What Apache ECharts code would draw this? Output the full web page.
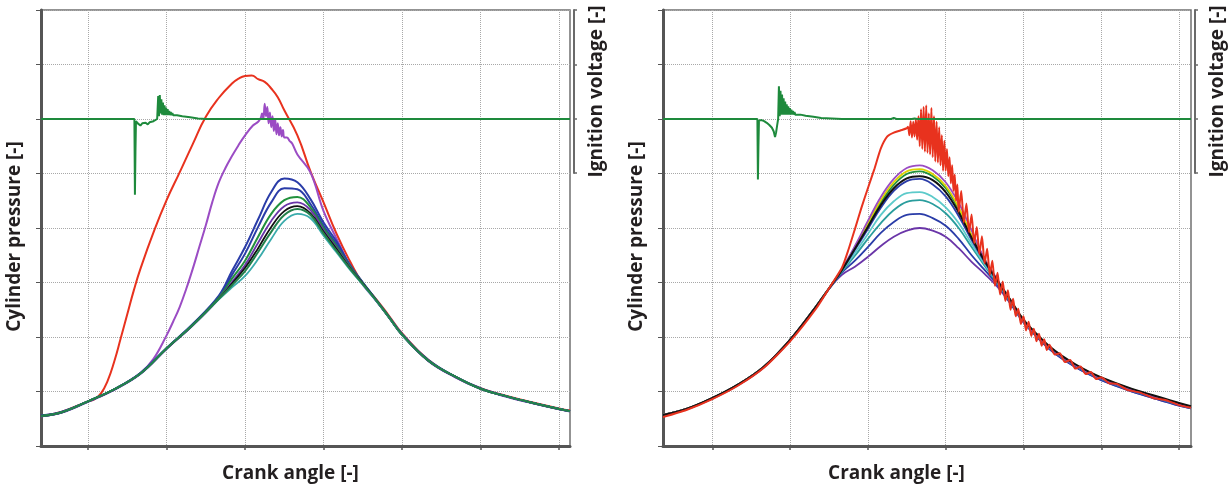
<!DOCTYPE html>
<html><head><meta charset="utf-8">
<script src="https://cdn.jsdelivr.net/npm/echarts@6/dist/echarts.min.js"></script>
<style>html,body{margin:0;padding:0;background:#fff}#c{width:1230px;height:488px}</style>
</head><body><div id="c"></div>
<script>
// ---------- axis ticks ----------
const crankTicks = [-90, -60, -30, 0, 30, 60, 90];

// ---------- LEFT PANEL : cylinder pressure [-] vs crank angle [deg] ----------
const leftRed = [[-108,0.55],[-100,0.63],[-90,0.82],[-87.5,0.86],[-85,0.97],[-82.5,1.20],[-80,1.55],[-77.5,1.98],[-75,2.42],[-72.5,2.86],[-70,3.25],[-65,3.92],[-60,4.51],[-55,5.02],[-50,5.54],[-45,6.04],[-40,6.39],[-35,6.65],[-32.5,6.74],[-30,6.79],[-27.5,6.80],[-25,6.73],[-22.5,6.68],[-20,6.56],[-17.5,6.40],[-15,6.16],[-10,5.70],[-5,5.04],[0,4.47],[5,3.89],[10,3.40],[15,2.98],[20,2.70],[25,2.39],[30,2.07],[40,1.58],[50,1.28],[60,1.06],[70,0.92],[80,0.80],[90,0.69],[94.2,0.65]];
const leftPurple = [[-108,0.55],[-100,0.62],[-90,0.82],[-80,1.04],[-70,1.34],[-65,1.60],[-60,2.03],[-57.5,2.28],[-55,2.55],[-52.5,2.88],[-50,3.25],[-47.5,3.65],[-45,4.05],[-42.5,4.48],[-40,4.84],[-37.5,5.10],[-35,5.32],[-32.5,5.52],[-30,5.70],[-27,5.88],[-25,5.95],[-24,6.02],[-23.5,6.10],[-23,6.00],[-22.5,6.28],[-22,6.05],[-21.5,6.22],[-21,5.92],[-20.5,6.12],[-20,5.85],[-19.5,6.05],[-19,5.78],[-18.5,6.00],[-18,5.72],[-17.5,5.92],[-17,5.70],[-16.5,5.85],[-16,5.68],[-15.5,5.80],[-15,5.66],[-14,5.66],[-13,5.60],[-12,5.55],[-10,5.35],[-5,5.02],[0,4.31],[5,3.80],[10,3.32],[15,2.96],[20,2.67],[25,2.37],[30,2.06],[40,1.57],[50,1.27],[60,1.05],[70,0.91],[80,0.79],[90,0.68],[94.2,0.64]];
const leftBlue1 = [[-108,0.56],[-100,0.63],[-90,0.82],[-80,1.04],[-70,1.34],[-60,1.80],[-50,2.24],[-40,2.76],[-35,3.21],[-30,3.65],[-25,4.16],[-20,4.66],[-15,4.91],[-10,4.84],[-5,4.53],[0,4.10],[5,3.75],[10,3.33],[15,3.00],[20,2.69],[25,2.37],[30,2.05],[40,1.58],[50,1.28],[60,1.06],[70,0.91],[80,0.79],[90,0.68],[94.2,0.64]];
const leftBlue2 = [[-108,0.55],[-100,0.62],[-90,0.82],[-80,1.04],[-70,1.33],[-60,1.79],[-50,2.23],[-40,2.74],[-35,3.14],[-30,3.53],[-25,4.02],[-20,4.47],[-15,4.73],[-10,4.71],[-5,4.44],[0,4.04],[5,3.70],[10,3.31],[15,3.00],[20,2.68],[25,2.37],[30,2.05],[40,1.57],[50,1.28],[60,1.05],[70,0.91],[80,0.79],[90,0.68],[94.2,0.64]];
const leftGreen1 = [[-108,0.55],[-100,0.62],[-90,0.82],[-80,1.04],[-70,1.33],[-60,1.79],[-50,2.22],[-40,2.72],[-35,3.07],[-30,3.40],[-25,3.84],[-20,4.26],[-15,4.51],[-10,4.57],[-5,4.38],[0,4.00],[5,3.66],[10,3.30],[15,2.99],[20,2.68],[25,2.36],[30,2.04],[40,1.57],[50,1.28],[60,1.05],[70,0.91],[80,0.79],[90,0.68],[94.2,0.64]];
const leftViolet = [[-108,0.54],[-100,0.61],[-90,0.81],[-80,1.03],[-70,1.32],[-60,1.78],[-50,2.21],[-40,2.70],[-35,3.01],[-30,3.32],[-25,3.73],[-20,4.13],[-15,4.40],[-10,4.47],[-5,4.33],[0,3.96],[5,3.63],[10,3.28],[15,2.98],[20,2.67],[25,2.36],[30,2.04],[40,1.56],[50,1.27],[60,1.05],[70,0.90],[80,0.78],[90,0.67],[94.2,0.63]];
const leftBlack = [[-108,0.55],[-100,0.62],[-90,0.82],[-80,1.04],[-70,1.33],[-60,1.79],[-50,2.22],[-40,2.70],[-35,2.98],[-30,3.27],[-25,3.63],[-20,4.02],[-15,4.31],[-10,4.40],[-5,4.27],[0,3.93],[5,3.61],[10,3.27],[15,2.98],[20,2.68],[25,2.36],[30,2.04],[40,1.57],[50,1.28],[60,1.05],[70,0.91],[80,0.79],[90,0.68],[94.2,0.64]];
const leftTeal = [[-108,0.55],[-100,0.62],[-90,0.82],[-80,1.04],[-70,1.33],[-60,1.79],[-50,2.22],[-40,2.69],[-35,2.91],[-30,3.12],[-25,3.43],[-20,3.80],[-15,4.13],[-10,4.26],[-5,4.18],[0,3.86],[5,3.55],[10,3.24],[15,2.96],[20,2.67],[25,2.36],[30,2.04],[40,1.57],[50,1.28],[60,1.05],[70,0.91],[80,0.79],[90,0.68],[94.2,0.64]];
const leftGreen2 = [[-108,0.55],[-100,0.62],[-90,0.82],[-80,1.04],[-70,1.33],[-60,1.79],[-50,2.22],[-40,2.70],[-35,2.95],[-30,3.21],[-25,3.56],[-20,3.93],[-15,4.24],[-10,4.35],[-5,4.24],[0,3.90],[5,3.58],[10,3.26],[15,2.97],[20,2.68],[25,2.37],[30,2.05],[40,1.57],[50,1.28],[60,1.05],[70,0.91],[80,0.79],[90,0.68],[94.2,0.64]];
// ignition voltage [-] (left panel)
const leftIgnition = [[-108,0],[-72.3,0],[-72.1,-1.39],[-71.9,-0.6],[-71.7,-0.04],[-71,-0.08],[-70,-0.12],[-69.3,-0.08],[-68.6,-0.11],[-68,-0.07],[-67.2,-0.1],[-66.5,-0.06],[-65.8,-0.08],[-65,-0.04],[-64.3,-0.06],[-63.6,0.0],[-63.2,0.42],[-62.9,0.05],[-62.6,0.44],[-62.3,0.10],[-62,0.36],[-61.7,0.08],[-61.4,0.30],[-61.1,0.07],[-60.8,0.25],[-60.5,0.07],[-60.2,0.21],[-59.9,0.07],[-59.6,0.18],[-59.3,0.07],[-59,0.15],[-58.7,0.07],[-58.4,0.13],[-58.1,0.07],[-57.8,0.11],[-57.5,0.07],[-57,0.09],[-56,0.07],[-54,0.05],[-51,0.03],[-48,0.01],[-45,0],[94.2,0]];

// ---------- RIGHT PANEL ----------
const rightPurple = [[-109,0.57],[-100,0.68],[-90,0.88],[-80,1.13],[-70,1.46],[-60,1.95],[-50,2.56],[-45,2.89],[-40,3.25],[-35,3.67],[-30,4.13],[-25,4.57],[-20,4.90],[-15,5.10],[-10,5.15],[-5,5.06],[0,4.84],[5,4.46],[10,3.95],[15,3.43],[20,3.05],[25,2.67],[30,2.30],[35,2.04],[40,1.81],[45,1.63],[50,1.48],[55,1.35],[60,1.24],[70,1.06],[80,0.91],[90,0.77],[94.6,0.71]];
const rightYellow = [[-109,0.57],[-100,0.68],[-90,0.88],[-80,1.13],[-70,1.46],[-60,1.95],[-50,2.56],[-45,2.89],[-40,3.25],[-35,3.65],[-30,4.09],[-25,4.51],[-20,4.84],[-15,5.04],[-10,5.08],[-5,4.99],[0,4.77],[5,4.38],[10,3.87],[15,3.43],[20,3.03],[25,2.67],[30,2.31],[35,2.05],[40,1.82],[45,1.64],[50,1.49],[55,1.36],[60,1.25],[70,1.07],[80,0.92],[90,0.78],[94.6,0.72]];
const rightGreen = [[-109,0.57],[-100,0.68],[-90,0.88],[-80,1.13],[-70,1.46],[-60,1.95],[-50,2.56],[-45,2.89],[-40,3.23],[-35,3.64],[-30,4.06],[-25,4.47],[-20,4.79],[-15,4.99],[-10,5.04],[-5,4.95],[0,4.73],[5,4.35],[10,3.85],[15,3.42],[20,3.03],[25,2.67],[30,2.30],[35,2.04],[40,1.81],[45,1.63],[50,1.48],[55,1.35],[60,1.24],[70,1.06],[80,0.91],[90,0.77],[94.6,0.71]];
const rightBlue1 = [[-109,0.57],[-100,0.68],[-90,0.88],[-80,1.13],[-70,1.46],[-60,1.95],[-50,2.56],[-45,2.89],[-40,3.23],[-35,3.60],[-30,3.98],[-25,4.37],[-20,4.68],[-15,4.86],[-10,4.90],[-5,4.80],[0,4.58],[5,4.22],[10,3.78],[15,3.38],[20,3.01],[25,2.65],[30,2.29],[35,2.03],[40,1.80],[45,1.62],[50,1.47],[55,1.34],[60,1.23],[70,1.05],[80,0.90],[90,0.76],[94.6,0.70]];
const rightCyan = [[-109,0.57],[-100,0.68],[-90,0.88],[-80,1.13],[-70,1.46],[-60,1.95],[-50,2.56],[-45,2.89],[-40,3.22],[-35,3.54],[-30,3.89],[-25,4.24],[-20,4.49],[-15,4.64],[-10,4.66],[-5,4.57],[0,4.38],[5,4.09],[10,3.71],[15,3.34],[20,3.00],[25,2.65],[30,2.29],[35,2.03],[40,1.80],[45,1.62],[50,1.47],[55,1.34],[60,1.23],[70,1.05],[80,0.90],[90,0.76],[94.6,0.70]];
const rightTeal = [[-109,0.57],[-100,0.68],[-90,0.88],[-80,1.13],[-70,1.46],[-60,1.95],[-50,2.56],[-45,2.89],[-40,3.20],[-35,3.49],[-30,3.80],[-25,4.09],[-20,4.33],[-15,4.48],[-10,4.51],[-5,4.44],[0,4.27],[5,4.00],[10,3.65],[15,3.31],[20,2.98],[25,2.64],[30,2.29],[35,2.03],[40,1.80],[45,1.62],[50,1.47],[55,1.34],[60,1.23],[70,1.05],[80,0.90],[90,0.76],[94.6,0.70]];
const rightBlue2 = [[-109,0.56],[-100,0.67],[-90,0.87],[-80,1.12],[-70,1.45],[-60,1.94],[-50,2.55],[-45,2.88],[-40,3.18],[-35,3.40],[-30,3.65],[-25,3.91],[-20,4.11],[-15,4.24],[-10,4.26],[-5,4.18],[0,4.04],[5,3.80],[10,3.50],[15,3.23],[20,2.96],[25,2.62],[30,2.27],[35,2.01],[40,1.78],[45,1.60],[50,1.45],[55,1.32],[60,1.21],[70,1.03],[80,0.88],[90,0.74],[94.6,0.69]];
const rightViolet = [[-109,0.56],[-100,0.67],[-90,0.87],[-80,1.12],[-70,1.45],[-60,1.94],[-50,2.55],[-45,2.88],[-40,3.14],[-35,3.29],[-30,3.47],[-25,3.67],[-20,3.84],[-15,3.95],[-10,4.00],[-5,3.95],[0,3.84],[5,3.63],[10,3.38],[15,3.16],[20,2.92],[25,2.61],[30,2.27],[35,2.01],[40,1.78],[45,1.60],[50,1.45],[55,1.32],[60,1.21],[70,1.03],[80,0.88],[90,0.74],[94.6,0.69]];
const rightBlack = [[-109,0.57],[-100,0.68],[-90,0.88],[-80,1.13],[-70,1.46],[-60,1.95],[-50,2.56],[-45,2.89],[-40,3.23],[-35,3.62],[-30,4.02],[-25,4.42],[-20,4.73],[-15,4.91],[-10,4.95],[-5,4.88],[0,4.66],[5,4.29],[10,3.82],[15,3.40],[20,3.03],[25,2.68],[30,2.32],[35,2.06],[40,1.83],[45,1.65],[50,1.50],[55,1.37],[60,1.26],[70,1.08],[80,0.93],[90,0.79],[94.6,0.73]];
const rightRed = [[-109,0.53],[-100,0.66],[-90,0.86],[-80,1.11],[-70,1.44],[-60,1.92],[-50,2.52],[-45,2.89],[-40,3.27],[-37.5,3.60],[-35,3.98],[-32.5,4.37],[-30,4.73],[-27.5,5.08],[-25,5.46],[-22.5,5.68],[-20,5.75],[-17.5,5.79],[-15,5.83],[-14.5,5.86],[-14,5.70],[-13.5,5.96],[-13,5.66],[-12.5,5.95],[-12,5.68],[-11.5,6.00],[-11,5.62],[-10.5,6.05],[-10,5.50],[-9.5,6.18],[-9,5.45],[-8.5,6.22],[-8,5.40],[-7.5,6.25],[-7,5.38],[-6.5,6.10],[-6,5.35],[-5.5,6.20],[-5,5.30],[-4.5,6.05],[-4,5.22],[-3.5,5.95],[-3,5.20],[-2.5,5.85],[-2,5.15],[-1.5,5.70],[-1,5.05],[-0.5,5.60],[0,5.05],[0.5,5.45],[1,4.95],[1.5,5.30],[2,4.82],[2.5,5.15],[3,4.68],[3.5,4.98],[4,4.50],[4.5,4.80],[5,4.30],[6,4.68],[7,4.10],[8,4.45],[9,3.92],[10,4.25],[11,3.72],[12,4.02],[13,3.52],[14,3.85],[15,3.35],[16,3.62],[17,3.14],[18,3.40],[19,2.94],[20,3.18],[21,2.78],[22,3.02],[23,2.66],[24,2.86],[25,2.50],[26,2.70],[27,2.38],[28,2.52],[29,2.24],[30,2.38],[31,2.12],[32,2.28],[33,2.02],[34,2.15],[35,1.92],[36,2.06],[37,1.84],[38,1.96],[39,1.76],[40,1.86],[42,1.68],[44,1.70],[46,1.54],[48,1.58],[50,1.42],[52,1.46],[54,1.32],[56,1.36],[58,1.23],[60,1.26],[63,1.15],[66,1.14],[70,1.03],[75,0.98],[80,0.88],[85,0.84],[90,0.75],[94.6,0.70]];
const rightIgnition = [[-109,0],[-72.6,0],[-72.4,-1.11],[-72.2,-0.5],[-72.0,-0.03],[-71.5,-0.02],[-71,-0.02],[-70,-0.04],[-69,-0.07],[-68,-0.11],[-67,-0.16],[-66.3,-0.23],[-65.8,-0.33],[-65.4,-0.25],[-65,-0.12],[-64.6,0.0],[-64.3,0.60],[-64.0,0.05],[-63.7,0.52],[-63.4,0.08],[-63.1,0.45],[-62.8,0.08],[-62.5,0.38],[-62.2,0.08],[-61.9,0.32],[-61.6,0.08],[-61.3,0.27],[-61,0.08],[-60.7,0.23],[-60.4,0.08],[-60.1,0.2],[-59.8,0.08],[-59.5,0.17],[-59.2,0.08],[-58.9,0.15],[-58.6,0.08],[-58.3,0.13],[-58,0.08],[-57.5,0.11],[-57,0.08],[-56,0.08],[-54,0.06],[-51,0.04],[-48,0.02],[-44,0.01],[-40,0],[-21,0],[-20,0.02],[-19,0],[-13,0],[-12.5,-0.02],[-12,0.01],[-11,0],[94.6,0]];

// ---------- styling ----------
const nameFont = {fontFamily:'Open Sans', fontWeight:'bold', fontSize:19, color:'#231f20'};
const axisGrey = '#555';
function mainX(gi, min, max, pad) {
  return {type:'value', gridIndex:gi, min:min, max:max,
    axisLine:{show:true, onZero:false, lineStyle:{color:axisGrey, width:3}},
    axisTick:{show:true, customValues:crankTicks, length:4, lineStyle:{color:axisGrey, width:1.5}},
    axisLabel:{show:false, customValues:crankTicks},
    splitLine:{show:true, lineStyle:{color:'#a8a8a8', type:'dotted', width:1}},
    name:'Crank angle [-]', nameLocation:'middle', nameGap:18,
    nameTextStyle:Object.assign({padding:[0,pad,0,0]}, nameFont)};
}
function hiddenX(gi, min, max){ return {type:'value', gridIndex:gi, min:min, max:max, show:false}; }
function pressureY(gi, pad){
  return {type:'value', gridIndex:gi, position:'left', min:0, max:8, interval:1,
    axisLine:{show:true, onZero:false, lineStyle:{color:axisGrey, width:3}},
    axisTick:{show:true, length:5, lineStyle:{color:axisGrey, width:1}},
    axisLabel:{show:false},
    splitLine:{show:true, lineStyle:{color:'#a8a8a8', type:'dotted', width:1}},
    name:'Cylinder pressure [-]', nameLocation:'middle', nameGap:17,
    nameTextStyle:Object.assign({padding:[0,pad,0,0]}, nameFont)};
}
function voltHidden(gi){ return {type:'value', gridIndex:gi, position:'right', min:-6, max:2, show:false}; }
function voltBracket(gi){
  return {type:'value', gridIndex:gi, position:'right', offset:4, min:-1, max:2, interval:1,
    axisLine:{show:true, onZero:false, lineStyle:{color:'#6a6a6a', width:2}},
    axisTick:{show:true, length:3, lineStyle:{color:'#6a6a6a', width:1.5}},
    axisLabel:{show:false}, splitLine:{show:false},
    name:'Ignition voltage [-]', nameLocation:'middle', nameGap:13, nameTextStyle:nameFont};
}
function line(data, color, width, xi, yi, smooth, z){
  return {type:'line', data:data, xAxisIndex:xi, yAxisIndex:yi, showSymbol:false, symbol:'none',
    smooth:smooth, lineStyle:{color:color, width:width}, z:z||2, silent:true};
}

const C = {red:'#e8321e', purple:'#9b4cc4', blue:'#2a3ca8', green:'#21913d', violet:'#6a35a8',
  black:'#111111', teal:'#3aabab', cyan:'#5ccaca', yellow:'#dcd200', ign:'#1e8a3c'};

const option = {
  animation:false,
  backgroundColor:'#ffffff',
  grid:[
    {left:41, top:10, width:529, height:438, show:true, borderColor:'#707070', borderWidth:1.5},
    {left:41, top:10, width:529, height:163},
    {left:663, top:10, width:528, height:438, show:true, borderColor:'#707070', borderWidth:1.5},
    {left:663, top:10, width:528, height:163}
  ],
  xAxis:[ mainX(0,-108,94.2,30), hiddenX(1,-108,94.2), mainX(2,-109,94.6,61), hiddenX(3,-109,94.6) ],
  yAxis:[ pressureY(0,17), voltHidden(0), voltBracket(1), pressureY(2,17), voltHidden(2), voltBracket(3) ],
  series:[
    line(leftRed, C.red, 2, 0, 0, 0.5),
    line(leftPurple, C.purple, 2, 0, 0, 0.4),
    line(leftBlue1, C.blue, 2, 0, 0, 0.4),
    line(leftBlue2, C.blue, 2, 0, 0, 0.4),
    line(leftGreen1, C.green, 2, 0, 0, 0.4),
    line(leftViolet, C.violet, 1.8, 0, 0, 0.4),
    line(leftBlack, C.black, 1.8, 0, 0, 0.4),
    line(leftTeal, C.teal, 1.8, 0, 0, 0.4),
    line(leftGreen2, '#23804a', 2, 0, 0, 0.4),
    line(leftIgnition, C.ign, 2, 0, 1, false, 3),

    line(rightViolet, C.violet, 1.8, 2, 3, 0.4),
    line(rightBlue2, C.blue, 1.8, 2, 3, 0.4),
    line(rightTeal, '#2a9d9d', 1.8, 2, 3, 0.4),
    line(rightCyan, C.cyan, 1.8, 2, 3, 0.4),
    line(rightBlue1, C.blue, 1.8, 2, 3, 0.4),
    line(rightGreen, C.green, 1.8, 2, 3, 0.4),
    line(rightYellow, C.yellow, 1.8, 2, 3, 0.4),
    line(rightPurple, C.purple, 1.8, 2, 3, 0.4),
    line(rightBlack, C.black, 2, 2, 3, 0.4),
    line(rightRed, C.red, 2, 2, 3, 0.2),
    line(rightIgnition, C.ign, 2, 2, 4, false, 3)
  ]
};
const chart = echarts.init(document.getElementById('c'), null, {renderer:'canvas'});
chart.setOption(option);
</script></body></html>
